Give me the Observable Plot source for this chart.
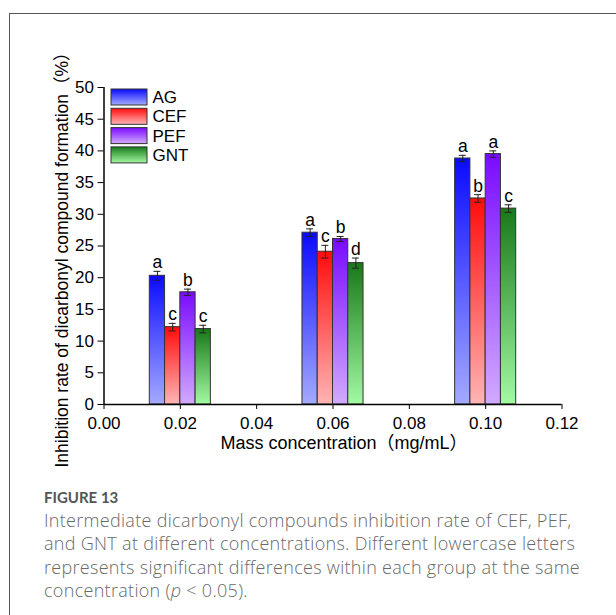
<!DOCTYPE html>
<html>
<head>
<meta charset="utf-8">
<script src="https://cdn.jsdelivr.net/npm/d3@7"></script>
<script src="https://cdn.jsdelivr.net/npm/@observablehq/plot@0.6"></script>
<style>
  html, body { margin: 0; padding: 0; background: #fff; width: 616px; height: 615px; overflow: hidden; }
  #frame { position: absolute; left: 9px; top: 13px; width: 700px; height: 700px;
           border-left: 1.5px solid #555; border-top: 1.5px solid #555; }
  #chart { position: absolute; left: 0; top: 0; }
  #caption { position: absolute; left: 44px; top: 488px; width: 572px; font-family: "Open Sans", Lato, "Noto Sans", sans-serif; white-space: nowrap; }
  #caption .fig { font-family: Lato, "Open Sans", sans-serif; font-weight: 700; color: #555; font-size: 15px; margin-bottom: 3px; }
  #caption .txt { color: #6a6a6a; font-size: 18px; letter-spacing: 0.3px; line-height: 23.3px; font-weight: 300; }
</style>
</head>
<body>
<div id="frame"></div>
<div id="chart"></div>
<div id="caption">
  <div class="fig">FIGURE 13</div>
  <div class="txt">Intermediate dicarbonyl compounds inhibition rate of CEF, PEF,<br>and GNT at different concentrations. Different lowercase letters<br>represents significant differences within each group at the same<br>concentration (<i>p</i> &lt; 0.05).</div>
</div>
<script>
// ---- data ----
const concentrations = [0.02, 0.06, 0.10];
const seriesNames = ["AG", "CEF", "PEF", "GNT"];
const valuesAG  = [20.3, 27.1, 38.8];
const valuesCEF = [12.2, 24.1, 32.5];
const valuesPEF = [17.7, 26.1, 39.5];
const valuesGNT = [11.9, 22.3, 30.9];
const errorsAG  = [0.7, 0.6, 0.5];
const errorsCEF = [0.6, 1.0, 0.6];
const errorsPEF = [0.5, 0.4, 0.5];
const errorsGNT = [0.6, 0.8, 0.6];
const lettersAG  = ["a", "a", "a"];
const lettersCEF = ["c", "c", "b"];
const lettersPEF = ["b", "b", "a"];
const lettersGNT = ["c", "d", "c"];
const xTicks = [0, 0.02, 0.04, 0.06, 0.08, 0.10, 0.12];
const yTicks = [0, 5, 10, 15, 20, 25, 30, 35, 40, 45, 50];
const xLabel = "Mass concentration（mg/mL）";
const yLabel = "Inhibition rate of dicarbonyl compound formation（%）";
const barWidth = 0.004; // in mg/mL units

const gradients = {
  AG:  ["#0a0aff", "#a4aaff"],
  CEF: ["#ff0c0c", "#ffb4b4"],
  PEF: ["#7a0aff", "#d2aaff"],
  GNT: ["#187818", "#a2faa2"]
};

const valueTable = {AG: valuesAG, CEF: valuesCEF, PEF: valuesPEF, GNT: valuesGNT};
const errorTable = {AG: errorsAG, CEF: errorsCEF, PEF: errorsPEF, GNT: errorsGNT};
const letterTable = {AG: lettersAG, CEF: lettersCEF, PEF: lettersPEF, GNT: lettersGNT};

const data = [];
seriesNames.forEach((s, si) => {
  concentrations.forEach((c, ci) => {
    const x1 = c + (si - 2) * barWidth;
    data.push({
      series: s, conc: c, x1, x2: x1 + barWidth, xc: x1 + barWidth / 2,
      value: valueTable[s][ci], err: errorTable[s][ci], letter: letterTable[s][ci],
      fill: `url(#grad-${s})`
    });
  });
});

const fontFam = '"Liberation Sans", Arial, "Noto Sans CJK SC", sans-serif';

function defsAndLegend(index, scales, values, dims) {
  const g = d3.create("svg:g");
  const defs = g.append("defs");
  seriesNames.forEach(s => {
    const lg = defs.append("linearGradient").attr("id", `grad-${s}`)
      .attr("x1", 0).attr("y1", 0).attr("x2", 0).attr("y2", 1);
    lg.append("stop").attr("offset", "0%").attr("stop-color", gradients[s][0]);
    lg.append("stop").attr("offset", "100%").attr("stop-color", gradients[s][1]);
  });
  const x0 = dims.marginLeft + 7.5;
  const y0 = dims.marginTop + 2;
  seriesNames.forEach((s, i) => {
    g.append("rect").attr("x", x0).attr("y", y0 + i * 19.3).attr("width", 36).attr("height", 16)
      .attr("fill", `url(#grad-${s})`).attr("stroke", "#333").attr("stroke-width", 1);
    g.append("text").attr("x", x0 + 41.5).attr("y", y0 + i * 19.3 + 8).attr("dy", "0.36em")
      .attr("text-anchor", "start")
      .attr("font-size", 17).attr("font-family", fontFam).attr("fill", "#000").text(s);
  });
  return g.node();
}

const chart = Plot.plot({
  width: 616,
  height: 470,
  marginLeft: 103.5,
  marginRight: 54.5,
  marginTop: 87,
  marginBottom: 66,
  style: {fontFamily: fontFam, fontSize: "16px", color: "#000", background: "transparent", overflow: "visible"},
  x: {domain: [0, 0.12]},
  y: {domain: [0, 50]},
  marks: [
    defsAndLegend,
    Plot.rectY(data, {x1: "x1", x2: "x2", y: "value", fill: d => d.fill, stroke: "#333", strokeWidth: 1}),
    Plot.ruleX(data, {x: "xc", y1: d => d.value - d.err, y2: d => d.value + d.err, stroke: "#222", strokeWidth: 1}),
    Plot.ruleY(data, {y: d => d.value + d.err, x1: "xc", x2: "xc", insetLeft: -3.5, insetRight: -3.5, stroke: "#222", strokeWidth: 1}),
    Plot.ruleY(data, {y: d => d.value - d.err, x1: "xc", x2: "xc", insetLeft: -3.5, insetRight: -3.5, stroke: "#222", strokeWidth: 1}),
    Plot.text(data, {x: "xc", y: d => d.value + d.err, text: "letter", lineAnchor: "bottom", dy: -3, fontSize: 17.5, fill: "#000"}),
    Plot.axisX({ticks: xTicks, tickFormat: d3.format(".2f"), tickSize: 5, tickPadding: 7, label: null, fontSize: 17}),
    Plot.axisY({ticks: yTicks, tickSize: 6, tickPadding: 4, label: null, fontSize: 17}),
    Plot.ruleX([0], {stroke: "#000", strokeWidth: 1.5}),
    Plot.ruleY([0], {stroke: "#000", strokeWidth: 1.5}),
    Plot.text([yLabel], {frameAnchor: "left", textAnchor: "middle", lineAnchor: "middle", rotate: -90, dx: -41.5, dy: 9.5, fontSize: 17.5, fill: "#000"}),
    Plot.text([xLabel], {frameAnchor: "bottom", textAnchor: "middle", lineAnchor: "middle", dx: 11, dy: 39, fontSize: 18, fill: "#000"})
  ]
});
document.getElementById("chart").appendChild(chart);
</script>
</body>
</html>
